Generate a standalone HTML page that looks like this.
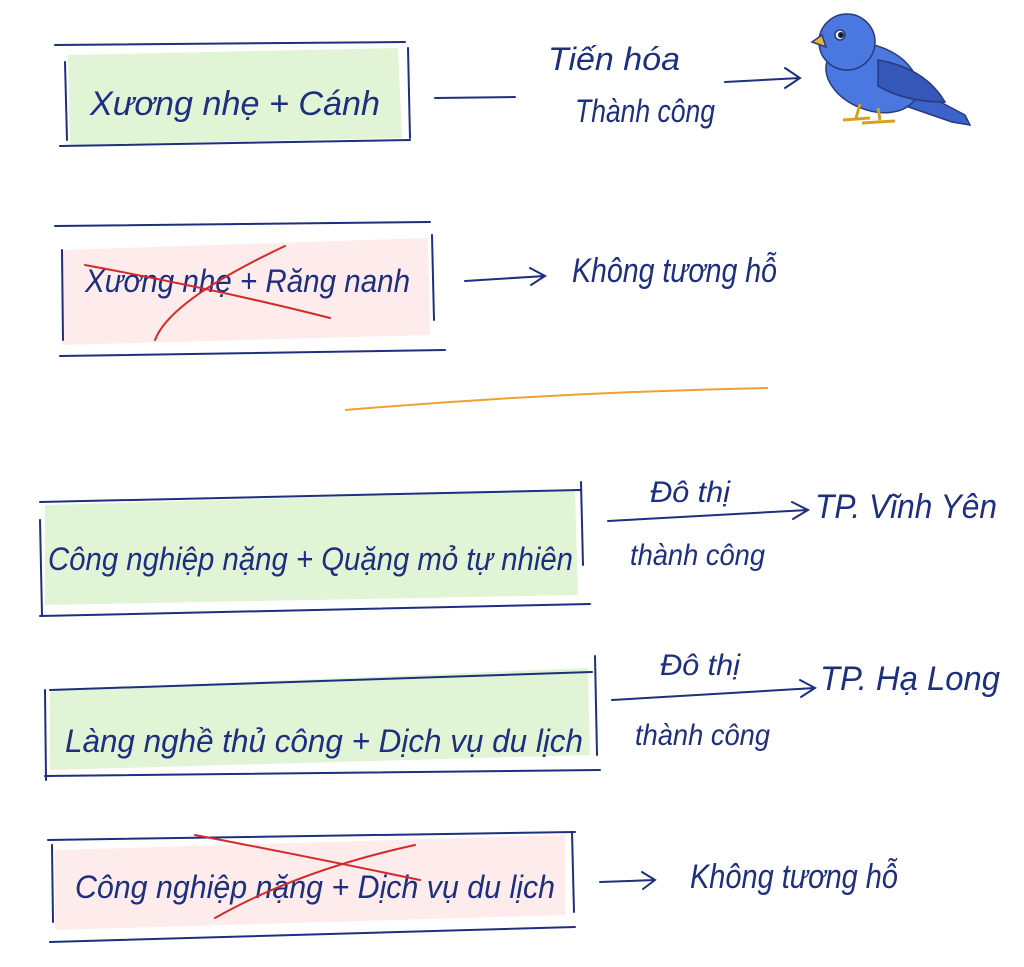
<!DOCTYPE html>
<html><head><meta charset="utf-8"><style>
html,body{margin:0;padding:0;background:#fff;}
svg{display:block;}
text{font-family:"Liberation Sans","DejaVu Sans",sans-serif;font-style:italic;fill:#1d2f7e;}
</style></head><body>
<svg width="1024" height="967" viewBox="0 0 1024 967" xmlns="http://www.w3.org/2000/svg">
<!-- fills -->
<path d="M68,55 L398,48 L402,138 L70,145 Z" fill="#e1f5d6"/>
<path d="M62,250 L428,238 L430,335 L62,345 Z" fill="#fdeceb"/>
<path d="M45,505 L575,490 L578,595 L45,605 Z" fill="#e1f5d6"/>
<path d="M50,690 L588,668 L590,755 L50,770 Z" fill="#e1f5d6"/>
<path d="M55,850 L565,835 L565,915 L55,930 Z" fill="#fdeceb"/>

<g fill="none" stroke="#1d2f7e" stroke-width="2" stroke-linecap="round">
<path d="M55,45 L405,42"/><path d="M65,62 L67,140"/><path d="M408,48 L410,138"/><path d="M60,146 L410,140"/>
<path d="M435,98 L515,97"/>
<path d="M725,82 L800,78 M785,68 L800,78 L785,88"/>
<path d="M55,226 L430,222"/><path d="M62,250 L63,340"/><path d="M432,235 L434,320"/><path d="M60,356 L445,350"/>
<path d="M465,281 L545,276 M530,268 L545,276 L531,285"/>
<path d="M40,502 L580,490"/><path d="M40,520 L42,615"/><path d="M581,482 L583,565"/><path d="M40,616 L590,604"/>
<path d="M608,521 L808,510 M792,502 L808,510 L793,519"/>
<path d="M50,690 L592,672"/><path d="M45,690 L46,780"/><path d="M595,656 L597,755"/><path d="M45,776 L600,770"/>
<path d="M612,700 L815,688 M800,680 L815,688 L801,697"/>
<path d="M48,840 L575,832"/><path d="M52,845 L53,922"/><path d="M572,832 L574,912"/><path d="M50,942 L575,927"/>
<path d="M600,882 L655,880 M642,872 L655,880 L643,889"/>
</g>
<path d="M345,410 Q560,392 768,388" fill="none" stroke="#f0a030" stroke-width="2"/>

<g lengthAdjust="spacingAndGlyphs">
<text x="90" y="115" font-size="34" textLength="290" lengthAdjust="spacingAndGlyphs">Xương nhẹ  +  Cánh</text>
<text x="548" y="70" font-size="32" textLength="132" lengthAdjust="spacingAndGlyphs">Tiến hóa</text>
<text x="575" y="122" font-size="32" textLength="140" lengthAdjust="spacingAndGlyphs">Thành công</text>
<text x="85" y="292" font-size="32" textLength="325" lengthAdjust="spacingAndGlyphs">Xương nhẹ  +  Răng nanh</text>
<text x="572" y="282" font-size="34" textLength="205" lengthAdjust="spacingAndGlyphs">Không tương hỗ</text>
<text x="48" y="570" font-size="32" textLength="525" lengthAdjust="spacingAndGlyphs">Công nghiệp nặng  +  Quặng mỏ tự nhiên</text>
<text x="650" y="502" font-size="30" textLength="80" lengthAdjust="spacingAndGlyphs">Đô thị</text>
<text x="630" y="565" font-size="30" textLength="135" lengthAdjust="spacingAndGlyphs">thành công</text>
<text x="815" y="518" font-size="34" textLength="182" lengthAdjust="spacingAndGlyphs">TP. Vĩnh Yên</text>
<text x="65" y="752" font-size="32" textLength="518" lengthAdjust="spacingAndGlyphs">Làng nghề thủ công  +  Dịch vụ du lịch</text>
<text x="660" y="675" font-size="30" textLength="80" lengthAdjust="spacingAndGlyphs">Đô thị</text>
<text x="635" y="745" font-size="30" textLength="135" lengthAdjust="spacingAndGlyphs">thành công</text>
<text x="820" y="690" font-size="34" textLength="180" lengthAdjust="spacingAndGlyphs">TP. Hạ Long</text>
<text x="75" y="898" font-size="32" textLength="480" lengthAdjust="spacingAndGlyphs">Công nghiệp nặng  +  Dịch vụ du lịch</text>
<text x="690" y="888" font-size="34" textLength="208" lengthAdjust="spacingAndGlyphs">Không tương hỗ</text>
</g>

<g fill="none" stroke="#d42a2a" stroke-width="2" stroke-linecap="round">
<path d="M85,265 Q220,290 330,318"/><path d="M155,340 Q170,300 285,246"/>
<path d="M195,835 Q300,855 420,880"/><path d="M215,918 Q300,870 415,845"/>
</g>

<g stroke="#2a3a7a" stroke-width="1.5">
<path d="M895,78 L965,115 L970,125 L952,122 L900,104 Z" fill="#3b63c9"/>
<ellipse cx="872" cy="78" rx="48" ry="32" fill="#4a78e0" transform="rotate(22 872 78)"/>
<circle cx="847" cy="42" r="28" fill="#4a78e0"/>
<path d="M878,60 Q925,68 945,102 Q905,102 878,86 Z" fill="#3558b8"/>
<path d="M822,35 L812,42 L826,47 Z" fill="#e8b830"/>
<circle cx="840" cy="35" r="5" fill="#fff"/><circle cx="841" cy="35" r="2.5" fill="#111"/>
<path d="M860,104 L856,118 M878,108 L880,120 M843,120 L870,118 M862,123 L895,121" stroke="#d9a020" stroke-width="3" fill="none"/>
</g>
</svg>
</body></html>
